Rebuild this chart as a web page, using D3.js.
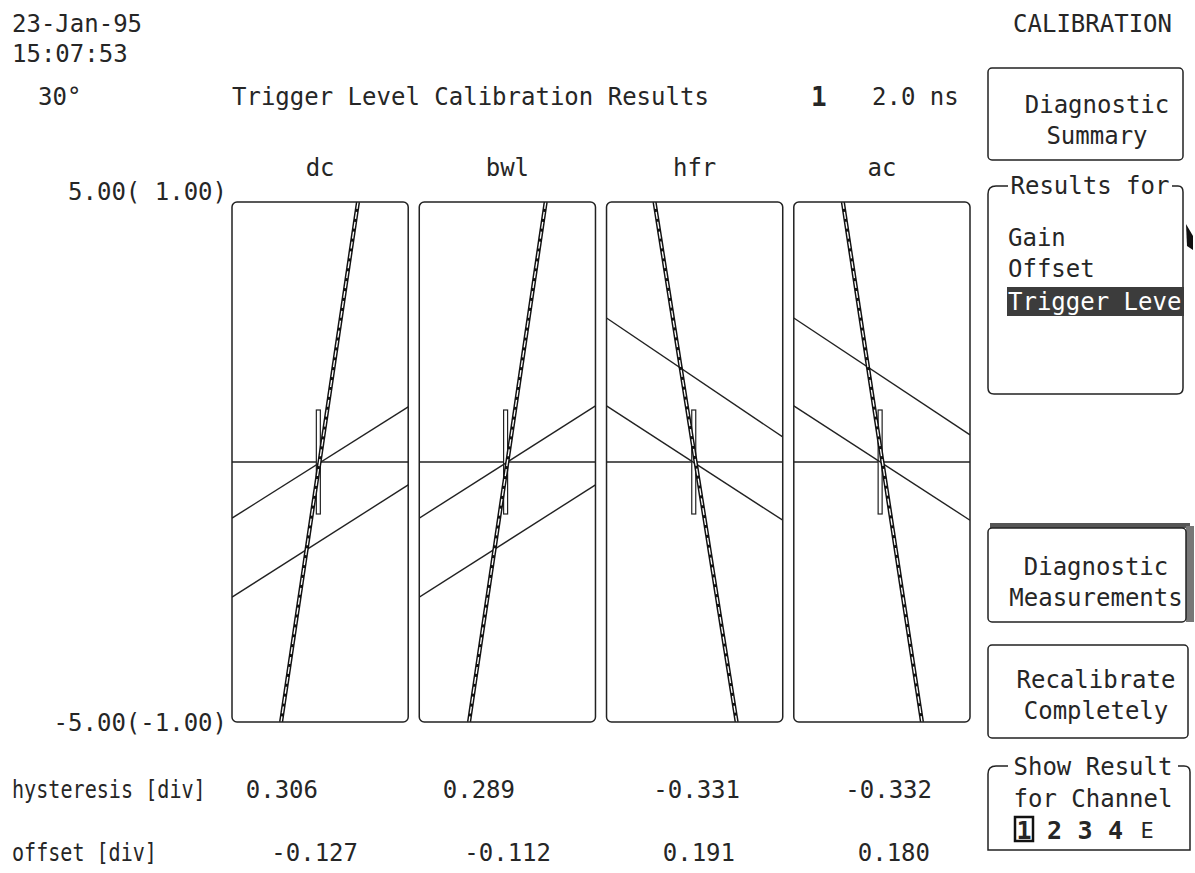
<!DOCTYPE html>
<html>
<head>
<meta charset="utf-8">
<script src="https://cdn.jsdelivr.net/npm/d3@7"></script>
<style>
  body { margin: 0; background: #fff; }
  svg text { font-family: "DejaVu Sans Mono", "Liberation Mono", monospace; fill: #262626; }
</style>
</head>
<body>
<svg id="chart" width="1195" height="873"></svg>
<script>
// ---- data ----
const channels = ["dc", "bwl", "hfr", "ac"];
const hysteresis = [0.306, 0.289, -0.331, -0.332];
const offsets = [-0.127, -0.112, 0.191, 0.180];

// steep (double) trace: x position (panel units, -1..1) at y = +5 and y = -5 div
const steepTop = [0.43, 0.435, -0.455, -0.443];
const steepBottom = [-0.443, -0.435, 0.477, 0.455];
// two shallow traces: y (div) at left edge (x=-1) and right edge (x=+1)
const upperLeft = [-1.08, -1.08, 2.77, 2.77];
const upperRight = [1.06, 1.08, 0.48, 0.52];
const lowerLeft = [-2.6, -2.6, 1.08, 1.08];
const lowerRight = [-0.44, -0.44, -1.12, -1.12];
// small vertical marker near the crossing
const markerX = [-0.02, -0.02, -0.01, -0.02];
const markerHalf = [1.0, 1.0, 1.0, 1.0];

const yTicks = [5, -5];
const yTickLabels = ["5.00( 1.00)", "-5.00(-1.00)"];

const svg = d3.select("#chart");

const x = d3.scaleBand().domain(channels).range([232, 970]).paddingInner(0.059);
const y = d3.scaleLinear().domain([-5, 5]).range([722, 202]);
const px = d3.scaleLinear().domain([-1, 1]).range([0, x.bandwidth()]);

// ---- header texts ----
const txt = (s, tx, ty, opts = {}) => svg.append("text")
    .attr("x", tx).attr("y", ty)
    .attr("text-anchor", opts.anchor || "start")
    .style("font-size", (opts.size || 24) + "px")
    .style("font-weight", opts.weight || "normal")
    .style("fill", opts.fill || null)
    .text(s);

txt("23-Jan-95", 12, 32);
txt("15:07:53", 12, 62);
txt("30°", 38, 105);
txt("Trigger Level Calibration Results", 232, 105);
txt("1", 811, 106, { weight: "bold", size: 26 });
txt("2.0 ns", 872, 105);
txt("CALIBRATION", 1172, 32, { anchor: "end" });

// ---- y axis labels ----
const yAxis = svg.append("g")
    .attr("transform", "translate(227,0)")
    .call(d3.axisLeft(y).tickValues(yTicks).tickSize(0).tickPadding(0)
        .tickFormat((d, i) => yTickLabels[i]))
    .call(g => g.select(".domain").remove())
    .attr("font-family", null).attr("font-size", null);
yAxis.selectAll("text").style("font-size", "24px")
    .attr("dy", d => d > 0 ? "-0.1em" : "0.35em");

// ---- panels ----
const clip = svg.append("defs");
channels.forEach((c, i) => {
    clip.append("clipPath").attr("id", "clip" + i)
        .append("rect").attr("x", 0).attr("y", y(5))
        .attr("width", x.bandwidth()).attr("height", y(-5) - y(5));
});

const panel = svg.selectAll("g.panel")
    .data(channels)
    .join("g")
    .attr("class", "panel")
    .attr("transform", d => `translate(${x(d)},0)`);

panel.append("text")
    .attr("x", x.bandwidth() / 2).attr("y", 176)
    .attr("text-anchor", "middle")
    .style("font-size", "24px")
    .text(d => d);

const inner = panel.append("g").attr("clip-path", (d, i) => `url(#clip${i})`);

// center line
inner.append("line")
    .attr("x1", 0).attr("x2", x.bandwidth())
    .attr("y1", y(0)).attr("y2", y(0))
    .attr("stroke", "#222").attr("stroke-width", 1.4);

// marker bar
inner.append("rect")
    .attr("x", (d, i) => px(markerX[i]) - 2)
    .attr("y", (d, i) => y(markerHalf[i]))
    .attr("width", 4)
    .attr("height", (d, i) => y(-markerHalf[i]) - y(markerHalf[i]))
    .attr("fill", "#fff").attr("stroke", "#222").attr("stroke-width", 1.2);

const line = d3.line().x(p => px(p[0])).y(p => y(p[1]));

inner.append("path")
    .attr("d", (d, i) => line([[-1, upperLeft[i]], [1, upperRight[i]]]))
    .attr("fill", "none").attr("stroke", "#222").attr("stroke-width", 1.4);
inner.append("path")
    .attr("d", (d, i) => line([[-1, lowerLeft[i]], [1, lowerRight[i]]]))
    .attr("fill", "none").attr("stroke", "#222").attr("stroke-width", 1.4);

// steep double trace
inner.append("path")
    .attr("d", (d, i) => line([[steepTop[i], 5], [steepBottom[i], -5]]))
    .attr("fill", "none").attr("stroke", "#111").attr("stroke-width", 4.2);
inner.append("path")
    .attr("d", (d, i) => line([[steepTop[i], 5], [steepBottom[i], -5]]))
    .attr("fill", "none").attr("stroke", "#fff").attr("stroke-width", 1.3)
    .attr("stroke-dasharray", "7,3");

// border
panel.append("rect")
    .attr("x", 0).attr("y", y(5))
    .attr("width", x.bandwidth()).attr("height", y(-5) - y(5))
    .attr("rx", 5)
    .attr("fill", "none").attr("stroke", "#222").attr("stroke-width", 1.5);

// ---- result rows ----
const rowLabels = ["hysteresis [div]", "offset [div]"];
const rowY = [798, 861];
rowLabels.forEach((s, i) => txt(s, 12, rowY[i])
    .attr("textLength", s.length * 12.2 - 1.5)
    .attr("lengthAdjust", "spacingAndGlyphs"));
const hystEnd = [318, 515, 740, 932];
const offEnd = [358, 551, 735, 930];
hysteresis.forEach((v, i) => txt(v.toFixed(3), hystEnd[i], rowY[0], { anchor: "end" }));
offsets.forEach((v, i) => txt(v.toFixed(3), offEnd[i], rowY[1], { anchor: "end" }));

// ---- right menu ----
const box = (x0, y0, w, h) => svg.append("rect")
    .attr("x", x0).attr("y", y0).attr("width", w).attr("height", h).attr("rx", 4)
    .attr("fill", "none").attr("stroke", "#222").attr("stroke-width", 1.5);

box(988, 68, 195, 92);
txt("Diagnostic", 1097, 113, { anchor: "middle" });
txt("Summary", 1097, 144, { anchor: "middle" });

// "Results for" group
svg.append("path")
    .attr("d", "M1008,186 H996 Q988,186 988,194 V388 Q988,394 994,394 H1177 Q1183,394 1183,388 V192 Q1183,186 1178,186 H1172")
    .attr("fill", "none").attr("stroke", "#222").attr("stroke-width", 1.5);
txt("Results for", 1090, 194, { anchor: "middle" });
txt("Gain", 1008, 246);
txt("Offset", 1008, 277);
svg.append("rect").attr("x", 1007).attr("y", 287).attr("width", 177).attr("height", 29)
    .attr("fill", "#3c3c3c");
txt("Trigger Leve", 1008, 310, { fill: "#fff" });
svg.append("path").attr("d", "M1186,224 L1193,236 L1193,250 L1187,246 Z").attr("fill", "#111");

// Diagnostic Measurements (pressed look)
svg.append("rect").attr("x", 990).attr("y", 523).attr("width", 200).attr("height", 5)
    .attr("fill", "#555");
svg.append("rect").attr("x", 1186).attr("y", 526).attr("width", 8).attr("height", 96)
    .attr("fill", "#777");
box(988, 528, 198, 94);
txt("Diagnostic", 1096, 575, { anchor: "middle" });
txt("Measurements", 1096, 606, { anchor: "middle" });

box(988, 645, 200, 93);
txt("Recalibrate", 1096, 688, { anchor: "middle" });
txt("Completely", 1096, 719, { anchor: "middle" });

// "Show Result for Channel" group
svg.append("path")
    .attr("d", "M1008,766 H996 Q988,766 988,774 V850 H1190 V772 Q1190,766 1184,766 H1178")
    .attr("fill", "none").attr("stroke", "#222").attr("stroke-width", 1.5);
txt("Show Result", 1093, 775, { anchor: "middle" });
txt("for Channel", 1093, 807, { anchor: "middle" });
svg.append("rect").attr("x", 1015).attr("y", 817).attr("width", 18).attr("height", 24)
    .attr("fill", "none").attr("stroke", "#111").attr("stroke-width", 2.5);
const chanLabels = ["1", "2", "3", "4"];
chanLabels.forEach((s, i) => txt(s, 1024 + i * 30.5, 839, { anchor: "middle", weight: "bold", size: 25 }));
txt("E", 1147, 838, { anchor: "middle", size: 22 });
</script>
</body>
</html>
